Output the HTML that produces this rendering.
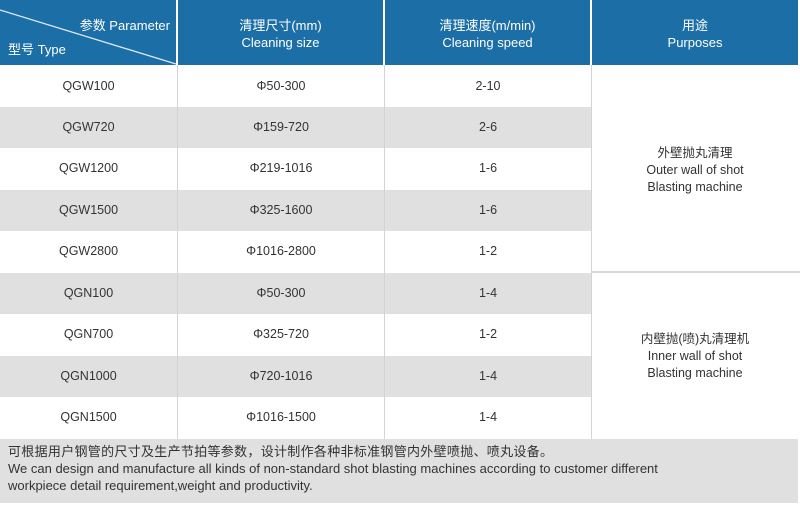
<!DOCTYPE html>
<html><head><meta charset="utf-8"><style>
body{margin:0;width:800px;height:506px;background:#fff;font-family:"Liberation Sans","Noto Sans CJK SC",sans-serif;color:#333;position:relative;overflow:hidden}
.a{position:absolute}
.hd{background:#1b6ea6;top:0;height:65px}
.c{text-align:center;font-size:12.5px}
.h{color:#fff;font-size:13px;line-height:17px;text-align:center}
.row{position:absolute;left:0;width:592px;height:41px}
.g{background:#e0e0e0}
.cell{position:absolute;top:0;height:41px;line-height:41px;text-align:center;font-size:12.5px}
</style></head><body>
<div class="a hd" style="left:0;width:176px"></div>
<div class="a hd" style="left:178px;width:205px"></div>
<div class="a hd" style="left:385px;width:205px"></div>
<div class="a hd" style="left:592px;width:206px"></div>
<svg class="a" style="left:0;top:0" width="178" height="65"><line x1="0" y1="10" x2="176" y2="64" stroke="#dfe9f2" stroke-width="1.3"/></svg>
<div class="a" style="left:0;top:15px;width:170px;text-align:right;color:#fff;font-size:13px">参数 Parameter</div>
<div class="a" style="left:8px;top:39px;color:#fff;font-size:13px">型号 Type</div>
<div class="a h" style="left:178px;width:205px;top:17px">清理尺寸(mm)<br>Cleaning size</div>
<div class="a h" style="left:385px;width:205px;top:17px">清理速度(m/min)<br>Cleaning speed</div>
<div class="a h" style="left:592px;width:206px;top:17px">用途<br>Purposes</div>

<div class="row" style="top:66px"><div class="cell" style="left:0;width:177px">QGW100</div><div class="cell" style="left:178px;width:206px">Φ50-300</div><div class="cell" style="left:385px;width:206px">2-10</div></div>
<div class="row g" style="top:107px"><div class="cell" style="left:0;width:177px">QGW720</div><div class="cell" style="left:178px;width:206px">Φ159-720</div><div class="cell" style="left:385px;width:206px">2-6</div></div>
<div class="row" style="top:148px"><div class="cell" style="left:0;width:177px">QGW1200</div><div class="cell" style="left:178px;width:206px">Φ219-1016</div><div class="cell" style="left:385px;width:206px">1-6</div></div>
<div class="row g" style="top:190px"><div class="cell" style="left:0;width:177px">QGW1500</div><div class="cell" style="left:178px;width:206px">Φ325-1600</div><div class="cell" style="left:385px;width:206px">1-6</div></div>
<div class="row" style="top:231px"><div class="cell" style="left:0;width:177px">QGW2800</div><div class="cell" style="left:178px;width:206px">Φ1016-2800</div><div class="cell" style="left:385px;width:206px">1-2</div></div>
<div class="row g" style="top:273px"><div class="cell" style="left:0;width:177px">QGN100</div><div class="cell" style="left:178px;width:206px">Φ50-300</div><div class="cell" style="left:385px;width:206px">1-4</div></div>
<div class="row" style="top:314px"><div class="cell" style="left:0;width:177px">QGN700</div><div class="cell" style="left:178px;width:206px">Φ325-720</div><div class="cell" style="left:385px;width:206px">1-2</div></div>
<div class="row g" style="top:356px"><div class="cell" style="left:0;width:177px">QGN1000</div><div class="cell" style="left:178px;width:206px">Φ720-1016</div><div class="cell" style="left:385px;width:206px">1-4</div></div>
<div class="row" style="top:397px"><div class="cell" style="left:0;width:177px">QGN1500</div><div class="cell" style="left:178px;width:206px">Φ1016-1500</div><div class="cell" style="left:385px;width:206px">1-4</div></div>

<div class="a" style="left:177px;top:65px;width:1px;height:374px;background:#d4d4d4"></div>
<div class="a" style="left:384px;top:65px;width:1px;height:374px;background:#d4d4d4"></div>
<div class="a" style="left:591px;top:65px;width:1px;height:374px;background:#d4d4d4"></div>
<div class="a" style="left:592px;top:271px;width:208px;height:2px;background:#d8d8d8"></div>

<div class="a c" style="left:592px;width:206px;top:145px;line-height:17px">外壁抛丸清理<br>Outer wall of shot<br>Blasting machine</div>
<div class="a c" style="left:592px;width:206px;top:331px;line-height:17px">内壁抛(喷)丸清理机<br>Inner wall of shot<br>Blasting machine</div>

<div class="a" style="left:0;top:439px;width:798px;height:64px;background:#e0e0e0"></div>
<div class="a" style="left:8px;top:443px;font-size:13px;line-height:17px;color:#333"><span style="letter-spacing:0.3px">可根据用户钢管的尺寸及生产节拍等参数，设计制作各种非标准钢管内外壁喷抛、喷丸设备。</span><br>We can design and manufacture all kinds of non-standard shot blasting machines according to customer different<br>workpiece detail requirement,weight and productivity.</div>
</body></html>
